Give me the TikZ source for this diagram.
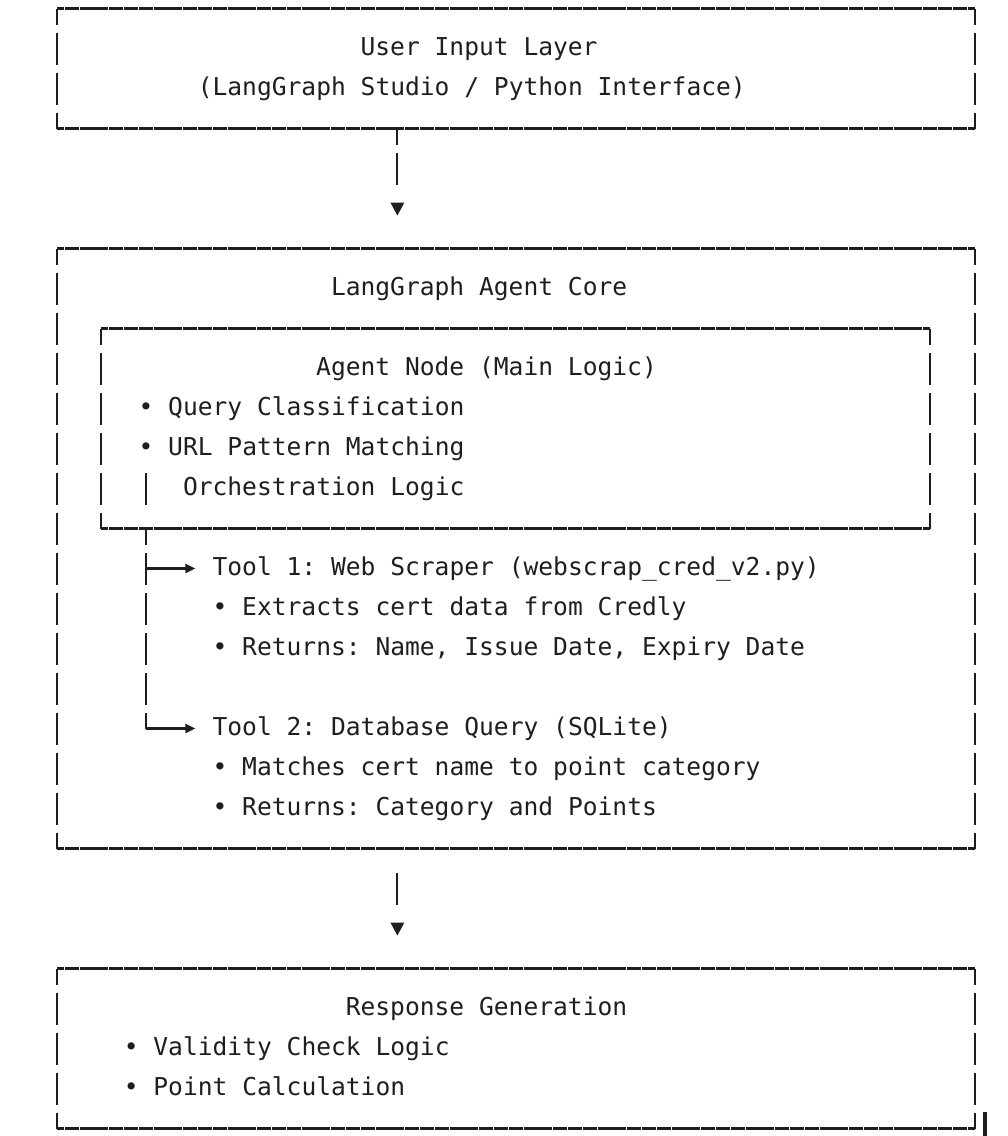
\documentclass[tikz,border=0pt]{standalone}
\usepackage{fontspec}
\setmonofont{DejaVu Sans Mono}
\usetikzlibrary{arrows.meta}
\definecolor{ink}{RGB}{30,30,32}
\tikzset{
  hrule/.style={ink, line width=2.1pt, dash pattern=on 13.9pt off 0.9pt, dash phase=6.95pt},
  vrule/.style={ink, line width=2.1pt, dash pattern=on 32pt off 8pt, dash phase=16pt},
  stem/.style={ink, line width=2.1pt},
  branch/.style={ink, line width=2.1pt, -{Triangle[length=10pt,width=9pt]}, shorten >=17pt},
  txt/.style={anchor=base west, inner sep=0pt, text=ink, font=\ttfamily\fontsize{24.6pt}{40pt}\selectfont},
}
\begin{document}
\begin{tikzpicture}[x=1pt,y=-1pt]
\useasboundingbox (0,0) rectangle (1008,1136);
%%% Box corners
\coordinate (in-nw) at (57,8.5);     \coordinate (in-ne) at (974.6,8.5);
\coordinate (in-sw) at (57,128.5);   \coordinate (in-se) at (974.6,128.5);
\coordinate (core-nw) at (57,248.5); \coordinate (core-ne) at (974.6,248.5);
\coordinate (core-sw) at (57,848.5); \coordinate (core-se) at (974.6,848.5);
\coordinate (agent-nw) at (101.4,328.5); \coordinate (agent-ne) at (930.2,328.5);
\coordinate (agent-sw) at (101.4,528.5); \coordinate (agent-se) at (930.2,528.5);
\coordinate (resp-nw) at (57,968.5);  \coordinate (resp-ne) at (974.6,968.5);
\coordinate (resp-sw) at (57,1128.5); \coordinate (resp-se) at (974.6,1128.5);
%%% The boxes
\foreach \b in {in,core,agent,resp} {
  \draw[hrule] (\b-nw) -- (\b-ne);
  \draw[hrule] (\b-sw) -- (\b-se);
  \draw[vrule] (\b-nw) -- (\b-sw);
  \draw[vrule] (\b-ne) -- (\b-se);
}
%%% Texts
\node[txt] (input-title) at (360.4,55.5) {User Input Layer};
\node[txt] (input-sub) at (197.6,95.5) {(LangGraph Studio / Python Interface)};
\node[txt] (core-title) at (330.8,295.5) {LangGraph Agent Core};
\node[txt] (agent-title) at (316,375.5) {Agent Node (Main Logic)};
\node[txt] (agent-item1) at (138.4,415.5) {• Query Classification};
\node[txt] (agent-item2) at (138.4,455.5) {• URL Pattern Matching};
\node[txt] (agent-item3) at (182.8,495.5) {Orchestration Logic};
\node[txt] (tool1) at (212.4,575.5) {Tool 1: Web Scraper (webscrap\_cred\_v2.py)};
\node[txt] (tool1-item1) at (212.4,615.5) {• Extracts cert data from Credly};
\node[txt] (tool1-item2) at (212.4,655.5) {• Returns: Name, Issue Date, Expiry Date};
\node[txt] (tool2) at (212.4,735.5) {Tool 2: Database Query (SQLite)};
\node[txt] (tool2-item1) at (212.4,775.5) {• Matches cert name to point category};
\node[txt] (tool2-item2) at (212.4,815.5) {• Returns: Category and Points};
\node[txt] (resp-title) at (345.6,1015.5) {Response Generation};
\node[txt] (resp-item1) at (123.6,1055.5) {• Validity Check Logic};
\node[txt] (resp-item2) at (123.6,1095.5) {• Point Calculation};
%%% Arrow from input to core
\coordinate (in-out) at (397.4,128.5);
\coordinate (core-in) at (397.4,248.5);
\draw[vrule] (in-out) -- ++(0,56);
\fill[ink] (core-in) ++(-7,-46) -- ++(14,0) -- ++(-7,13) -- cycle;
%%% Tool branches
\coordinate (agent-tap) at (145.8,528.5);
\coordinate (tool1-tap) at (145.8,568.5);
\coordinate (tool2-tap) at (145.8,728.5);
\draw[stem] (145.8,472.5) -- (145.8,504.5);
\draw[vrule] (agent-tap) -- (tool2-tap);
\draw[branch] (tool1-tap) -- (tool1-tap -| tool1.west);
\draw[branch] (tool2-tap) -- (tool2-tap -| tool2.west);
%%% Arrow from core to response
\coordinate (core-out) at (397.4,848.5);
\coordinate (resp-in) at (397.4,968.5);
\draw[stem] (core-out) ++(0,24) -- ++(0,32);
\fill[ink] (resp-in) ++(-7,-46) -- ++(14,0) -- ++(-7,13) -- cycle;
%%% Cursor
\fill[ink] (983,1112) rectangle (987,1136);
\end{tikzpicture}
\end{document}
